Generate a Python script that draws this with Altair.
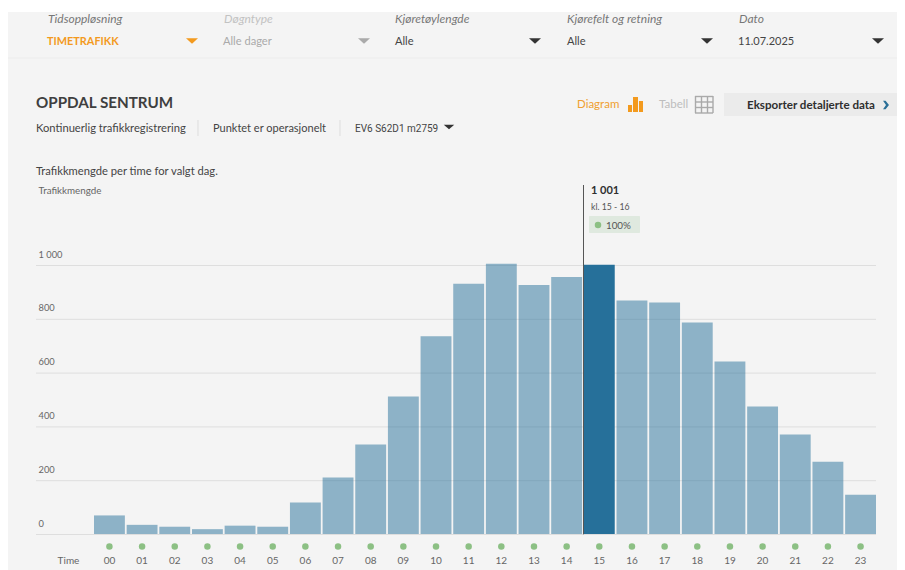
import altair as alt
import pandas as pd

hours = ["00","01","02","03","04","05","06","07","08","09","10","11","12","13","14","15","16","17","18","19","20","21","22","23"]
traffic = [69,34,27,18,31,27,117,210,333,511,735,930,1005,926,955,1001,868,861,786,641,474,370,269,146]
selected_hour = "15"
y_ticks = [0,200,400,600,800,1000]

df = pd.DataFrame({"hour": hours, "traffic": traffic})
grid_df = pd.DataFrame({"tick": y_ticks})
dummy = alt.Data(values=[{"a": 1}])
FONT = "Lato"
TXT = "#444444"
ORANGE = "#f39a1e"

# the view starts at page (36, 8)
def px(x): return x - 36
def py(y): return y - 8

def text(s, x, y, size=11.2, color=TXT, weight="normal", style="normal", align="left", font=FONT):
    return alt.Chart(dummy).mark_text(text=s, align=align, baseline="middle", fontSize=size, color=color,
                                      fontWeight=weight, fontStyle=style, font=font).encode(
        x=alt.value(px(x)), y=alt.value(py(y + 0.7)))

def box(x0, y0, x1, y1, color, radius=0):
    return alt.Chart(dummy).mark_rect(color=color, cornerRadius=radius).encode(
        x=alt.value(px(x0)), x2=alt.value(px(x1)), y=alt.value(py(y0)), y2=alt.value(py(y1)))

def line(x0, y0, x1, y1, color, w=1):
    return alt.Chart(dummy).mark_rule(color=color, strokeWidth=w).encode(
        x=alt.value(px(x0)), x2=alt.value(px(x1)), y=alt.value(py(y0)), y2=alt.value(py(y1)))

TRI = "M-1,-0.45L1,-0.45L0,0.45Z"
def tri(x, y, color="#333333", size=144):
    return alt.Chart(dummy).mark_point(shape=TRI, filled=True, color=color, size=size, opacity=1, strokeWidth=0).encode(
        x=alt.value(px(x)), y=alt.value(py(y)))

x_enc = alt.X("hour:N", sort=hours,
              scale=alt.Scale(range=[58, 840], paddingInner=0.055, paddingOuter=0),
              axis=alt.Axis(title="Time", titleX=px(68), titleY=26, titleFontSize=10, titleFontWeight="normal",
                            titleColor="#666666", titleFont=FONT, titleAlign="center", titleBaseline="middle",
                            labelAngle=0, labelPadding=26, labelFontSize=10, labelColor="#666666", labelFont=FONT,
                            labelBaseline="middle", ticks=False, domain=False, grid=False))

y_scale = alt.Scale(domain=[0, 1000], range=[526, 257], nice=False)
y_axis = alt.Axis(values=y_ticks, title="Trafikkmengde", titleAngle=0, titleX=2, titleY=py(190.7),
                  titleAlign="left", titleBaseline="middle", titleFontSize=9.8, titleFontWeight="normal",
                  titleColor="#666666", titleFont=FONT,
                  labelAlign="left", labelBaseline="middle", labelPadding=-2, labelOffset=-11,
                  labelFontSize=9.3, labelColor="#666666", labelFont=FONT,
                  labelExpr="datum.value === 1000 ? '1 000' : datum.label",
                  ticks=False, domain=False, grid=False)

is_sel = f"datum.hour === '{selected_hour}'"
gridlines = alt.Chart(grid_df).mark_rule(color="#dedede", strokeWidth=1, yOffset=0.5).encode(
    x=alt.value(0), x2=alt.value(840), y=alt.Y("tick:Q", scale=y_scale, axis=y_axis))
bars = alt.Chart(df).mark_bar().encode(
    x=x_enc, y=alt.Y("traffic:Q", scale=y_scale, axis=y_axis),
    color=alt.condition(is_sel, alt.value("#26709a"), alt.value("#26709a")),
    opacity=alt.condition(is_sel, alt.value(1), alt.value(0.5)),
)
dots = alt.Chart(df).mark_circle(color="#8cc084", size=42, opacity=1).encode(
    x=alt.X("hour:N", sort=hours), y=alt.value(py(546.5)))

layers = [
    box(0, 8, 905, 12, "#ffffff"),
    line(8, 58, 905, 58, "#ececec"),
    gridlines, bars, dots,
    # filter strip
    text("Tidsoppløsning", 48, 18.6, 12, "#777777", style="italic"),
    text("TIMETRAFIKK", 47, 41, 10.9, ORANGE, weight="bold"),
    tri(192, 41, ORANGE),
    text("Døgntype", 224, 18.6, 12, "#c2c2c2", style="italic"),
    text("Alle dager", 223, 41, 11.1, "#aaaaaa"),
    tri(364, 41, "#aaaaaa"),
    text("Kjøretøylengde", 395, 18.6, 12, "#777777", style="italic"),
    text("Alle", 395, 41, 11.1),
    tri(535, 41),
    text("Kjørefelt og retning", 567, 18.6, 12, "#777777", style="italic"),
    text("Alle", 567, 41, 11.1),
    tri(707, 41),
    text("Dato", 739, 18.6, 12, "#777777", style="italic"),
    text("11.07.2025", 738, 41, 11),
    tri(878, 41),
    # heading
    text("OPPDAL SENTRUM", 36, 102, 15.2, "#3f3f3f", weight="bold"),
    text("Kontinuerlig trafikkregistrering", 36, 128),
    line(198, 120, 198, 136, "#dddddd"),
    text("Punktet er operasjonelt", 213, 128, 11),
    line(340, 120, 340, 136, "#dddddd"),
    text("EV6 S62D1 m2759", 355, 128, 10, font="Roboto"),
    tri(449, 127, "#333333", 110),
    text("Trafikkmengde per time for valgt dag.", 36, 171),
    # view switch
    text("Diagram", 577, 104, 11.5, "#f0a030"),
    box(628, 105, 632, 112, ORANGE),
    box(633, 97, 638, 112, ORANGE),
    box(639, 101, 643, 112, ORANGE),
    text("Tabell", 659, 104, 11.5, "#bdbdbd"),
]
for a in (695.5, 701.5, 707.5, 713):
    layers.append(line(a, 96, a, 113, "#aaaaaa", 1.4))
for b in (96.5, 102, 107.5, 113):
    layers.append(line(695, b, 713, b, "#aaaaaa", 1.4))
layers += [
    box(724, 93, 898, 116, "#ebebeb"),
    text("Eksporter detaljerte data", 747, 105, 11.6, "#2f2f2f", weight="bold"),
    alt.Chart(dummy).mark_point(shape="M-0.7,-1L-0.1,-1L0.7,0L-0.1,1L-0.7,1L0,0Z", filled=True, color="#2a6f97",
                                size=72, opacity=1, strokeWidth=0).encode(x=alt.value(px(886)), y=alt.value(py(105))),
    # tooltip
    line(583.5, 185, 583.5, 534.3, "#555555", 1),
    text("1 001", 591, 190, 11, "#2f2f2f", weight="bold"),
    text("kl. 15 - 16", 591, 206, 8.7, "#555555"),
    box(589, 216, 640, 233, "#dfe9df", 1),
    alt.Chart(dummy).mark_circle(color="#8cc084", size=42, opacity=1).encode(x=alt.value(px(598)), y=alt.value(py(225))),
    text("100%", 606, 225, 9.8, "#555555"),
]

chart = alt.layer(*layers).properties(
    width=840, height=526,
    padding={"left": 28, "top": 0, "right": 21, "bottom": 36},
    autosize=alt.AutoSizeParams(type="none"),
    background="#f4f4f4",
).configure_view(strokeWidth=0)

chart.save("out.html", embed_options={"renderer": "svg", "actions": False})
